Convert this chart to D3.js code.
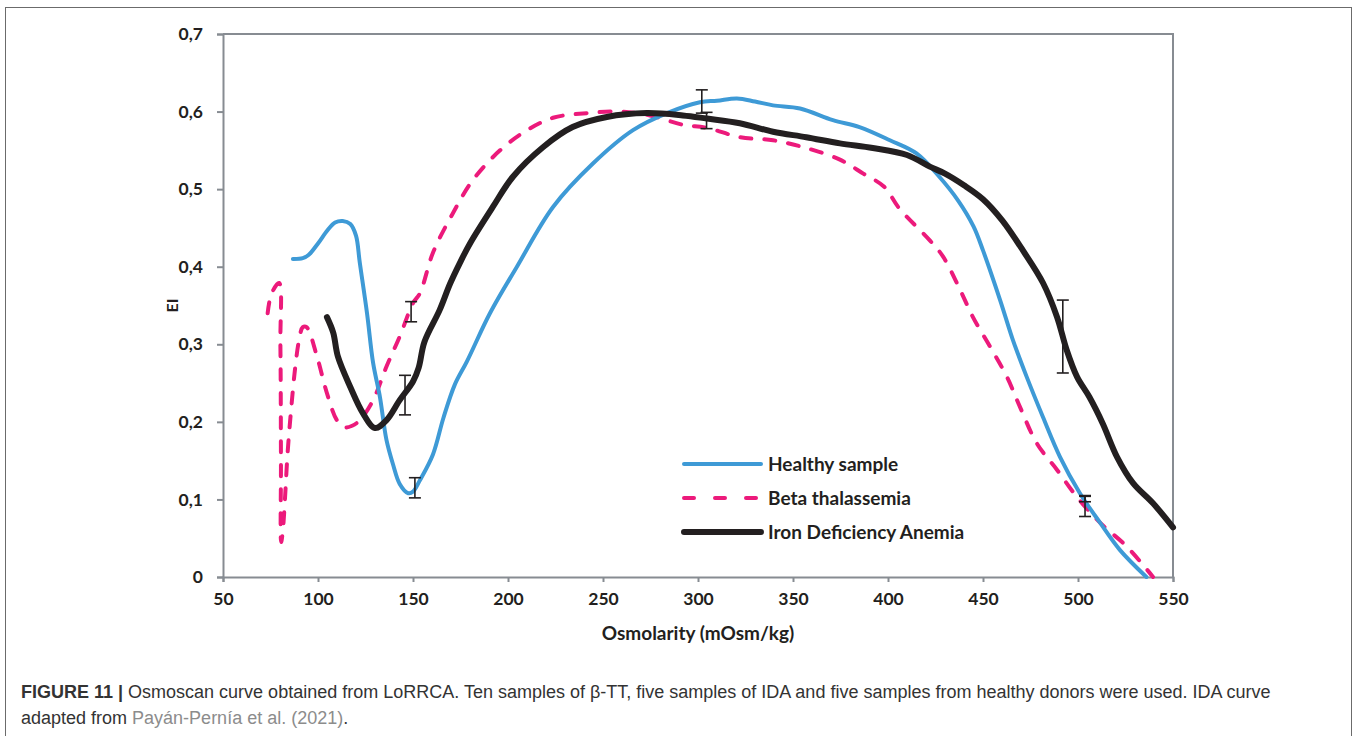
<!DOCTYPE html>
<html>
<head>
<meta charset="utf-8">
<script src="https://cdn.jsdelivr.net/npm/d3@7"></script>
<style>
	body { margin: 0; background: #fff; }
	svg text { font-family: Lato, "Open Sans", sans-serif; }
</style>
</head>
<body>
<div id="chart"></div>
<script>
// values: [osmolarity, EI]
const healthy = [
	[86.8, 0.41], [92, 0.411], [95, 0.415], [100, 0.43], [105, 0.447], [109, 0.457], [113, 0.459],
	[117, 0.455], [120, 0.44], [122, 0.405], [125.8, 0.34], [129, 0.276], [132.6, 0.232],
	[136, 0.177], [139.5, 0.145], [143, 0.12], [147.5, 0.108], [150, 0.11], [153.7, 0.125],
	[160.5, 0.158], [166, 0.205], [172, 0.248], [178.4, 0.278], [190.5, 0.34], [204.7, 0.4],
	[223.7, 0.477], [244.7, 0.533], [265.8, 0.576], [283.7, 0.598], [301, 0.612], [310, 0.614],
	[320.5, 0.617], [330, 0.613], [339.5, 0.608], [353.7, 0.604], [371, 0.589], [385, 0.58],
	[401, 0.563], [415, 0.546], [427, 0.516], [437, 0.485], [445, 0.452], [450, 0.421],
	[459, 0.357], [465.8, 0.305], [473, 0.258], [481.6, 0.206], [490.5, 0.155], [501, 0.108],
	[511.6, 0.07], [522, 0.035], [536, 0.0]
];

const betaThal = [
	[73.5, 0.34], [75.5, 0.365], [79.5, 0.379], [80.2, 0.3], [80.5, 0.15], [80.6, 0.045],
	[81.5, 0.06], [82.6, 0.1], [84, 0.16], [86, 0.22], [88, 0.27], [90, 0.305], [92, 0.322],
	[94, 0.322], [99.5, 0.284], [104.7, 0.237], [110, 0.202], [114, 0.193], [118, 0.195],
	[122, 0.202], [129, 0.228], [136, 0.271], [143, 0.31], [150, 0.353], [153.7, 0.366],
	[160.5, 0.418], [171, 0.469], [181.6, 0.512], [195.8, 0.55], [210, 0.576], [223.7, 0.592],
	[241.6, 0.598], [259, 0.6], [274.7, 0.595], [292, 0.583], [304.7, 0.579], [322, 0.567],
	[339.5, 0.563], [357, 0.553], [374.7, 0.538], [387, 0.52], [398, 0.503], [406, 0.475],
	[422, 0.434], [429, 0.413], [438, 0.37], [444.7, 0.335], [453.7, 0.297], [462.6, 0.258],
	[469.5, 0.219], [478.4, 0.172], [489, 0.138], [499.5, 0.103], [511.6, 0.07],
	[525.8, 0.039], [539.5, 0.0]
];

const ironDef = [
	[104.7, 0.335], [108, 0.315], [110.5, 0.284], [117, 0.245], [123.7, 0.211], [130, 0.192],
	[136, 0.202], [143, 0.228], [150, 0.252], [153, 0.27], [156, 0.303], [164, 0.344],
	[169.5, 0.378], [174.7, 0.405], [180, 0.43], [192, 0.477], [202.6, 0.516], [218.4, 0.554],
	[234, 0.58], [252, 0.593], [273, 0.598], [292, 0.595], [304.7, 0.591], [322, 0.585],
	[339.5, 0.574], [357, 0.567], [374.7, 0.559], [392, 0.553], [410, 0.544], [422, 0.529],
	[430, 0.52], [440, 0.505], [450, 0.487], [460, 0.46], [471, 0.421], [481.6, 0.379],
	[489, 0.335], [494, 0.293], [499.5, 0.258], [506, 0.232], [513, 0.198], [520.5, 0.155],
	[529, 0.121], [539.5, 0.095], [550, 0.064]
];

// error bars: x, low, high
const errX = [149, 145.8, 151, 302, 304.5, 492, 503.7, 503.7];
const errLo = [0.329, 0.209, 0.102, 0.598, 0.578, 0.263, 0.078, 0.097];
const errHi = [0.355, 0.26, 0.128, 0.628, 0.599, 0.357, 0.104, 0.105];

const xTicks = [50, 100, 150, 200, 250, 300, 350, 400, 450, 500, 550];
const yTicks = [0, 0.1, 0.2, 0.3, 0.4, 0.5, 0.6, 0.7];

const seriesNames = ["Healthy sample", "Beta thalassemia", "Iron Deficiency Anemia"];
const seriesColors = ["#3e9ad6", "#ec1a7b", "#231f20"];

const width = 1357, height = 736;
const margin = {left: 223, top: 34, right: 1357 - 1173, bottom: 736 - 577};

const svg = d3.select("#chart").append("svg")
	.attr("width", width)
	.attr("height", height);

// figure frame
svg.append("rect")
	.attr("x", 5.5).attr("y", 7.5)
	.attr("width", 1346).attr("height", 740)
	.attr("fill", "none")
	.attr("stroke", "#6b6b6b")
	.attr("stroke-width", 1);

const x = d3.scaleLinear().domain([50, 550]).range([margin.left, width - margin.right]);
const y = d3.scaleLinear().domain([0, 0.7]).range([height - margin.bottom, margin.top]);

const comma = d3.formatLocale({decimal: ",", thousands: ".", grouping: [3], currency: ["", ""]}).format(".1f");
const axisColor = "#878c92";

// plot box (top & right)
svg.append("path")
	.attr("d", `M${x(50)},${y(0.7)}H${x(550)}V${y(0)}`)
	.attr("fill", "none")
	.attr("stroke", axisColor)
	.attr("stroke-width", 2);

const yAxis = svg.append("g")
	.attr("transform", `translate(${x(50)},0)`)
	.call(d3.axisLeft(y).tickValues(yTicks).tickSize(6).tickPadding(14)
		.tickFormat(d => d === 0 ? "0" : comma(d)));

const xAxis = svg.append("g")
	.attr("transform", `translate(0,${y(0)})`)
	.call(d3.axisBottom(x).tickValues(xTicks).tickSize(5).tickPadding(11));

[xAxis, yAxis].forEach(g => {
	g.select(".domain").attr("stroke", axisColor).attr("stroke-width", 2);
	g.selectAll(".tick line").attr("stroke", axisColor).attr("stroke-width", 2);
	g.selectAll(".tick text")
		.attr("fill", "#231f20")
		.style("font-family", "Lato, sans-serif")
		.style("font-size", "17.5px")
		.style("font-weight", "bold");
});

svg.append("text")
	.attr("x", (x(50) + x(550)) / 2)
	.attr("y", 640)
	.attr("text-anchor", "middle")
	.attr("fill", "#231f20")
	.style("font-size", "19px")
	.style("font-weight", "bold")
	.text("Osmolarity (mOsm/kg)");

svg.append("text")
	.attr("transform", `translate(178,${y(0.35)}) rotate(-90)`)
	.attr("text-anchor", "middle")
	.attr("fill", "#231f20")
	.style("font-size", "16px")
	.style("font-weight", "bold")
	.text("EI");

const line = d3.line()
	.x(d => x(d[0]))
	.y(d => y(d[1]))
	.curve(d3.curveCatmullRom.alpha(0.5));

svg.append("path")
	.attr("d", line(betaThal))
	.attr("fill", "none")
	.attr("stroke", seriesColors[1])
	.attr("stroke-width", 4)
	.attr("stroke-linecap", "round")
	.attr("stroke-dasharray", "11,13");

svg.append("path")
	.attr("d", line(healthy))
	.attr("fill", "none")
	.attr("stroke", seriesColors[0])
	.attr("stroke-width", 4)
	.attr("stroke-linecap", "round")
	.attr("stroke-linejoin", "round");

svg.append("path")
	.attr("d", line(ironDef))
	.attr("fill", "none")
	.attr("stroke", seriesColors[2])
	.attr("stroke-width", 6)
	.attr("stroke-linecap", "round")
	.attr("stroke-linejoin", "round");

// error bars
const err = svg.append("g")
	.attr("stroke", "#231f20")
	.attr("stroke-width", 1.6)
	.selectAll("g")
	.data(errX.map((v, i) => ({x: v, lo: errLo[i], hi: errHi[i]})))
	.enter().append("g");

err.append("line")
	.attr("x1", d => x(d.x)).attr("x2", d => x(d.x))
	.attr("y1", d => y(d.lo)).attr("y2", d => y(d.hi));
err.append("line")
	.attr("x1", d => x(d.x) - 6).attr("x2", d => x(d.x) + 6)
	.attr("y1", d => y(d.lo)).attr("y2", d => y(d.lo));
err.append("line")
	.attr("x1", d => x(d.x) - 6).attr("x2", d => x(d.x) + 6)
	.attr("y1", d => y(d.hi)).attr("y2", d => y(d.hi));

// legend
const legend = svg.append("g")
	.selectAll("g")
	.data(seriesNames)
	.enter().append("g")
	.attr("transform", (d, i) => `translate(684,${464 + i * 34})`);

legend.append("line")
	.attr("x1", 0).attr("x2", 77)
	.attr("stroke", (d, i) => seriesColors[i])
	.attr("stroke-width", (d, i) => i === 2 ? 6 : 4)
	.attr("stroke-linecap", "round")
	.attr("stroke-dasharray", (d, i) => i === 1 ? "10,21" : null);

legend.append("text")
	.attr("x", 84)
	.attr("dy", "0.35em")
	.attr("fill", "#231f20")
	.style("font-size", "19px")
	.style("font-weight", "bold")
	.text(d => d);

// caption
const cap = svg.append("text")
	.attr("x", 21).attr("y", 698)
	.attr("fill", "#333")
	.style("font-family", "'Liberation Sans', Arial, sans-serif")
	.style("font-size", "18px");
cap.append("tspan").style("font-weight", "bold").text("FIGURE 11 | ");
cap.append("tspan").text("Osmoscan curve obtained from LoRRCA. Ten samples of β-TT, five samples of IDA and five samples from healthy donors were used. IDA curve");

const cap2 = svg.append("text")
	.attr("x", 21).attr("y", 724)
	.attr("fill", "#333")
	.style("font-family", "'Liberation Sans', Arial, sans-serif")
	.style("font-size", "18px");
cap2.append("tspan").text("adapted from ");
cap2.append("tspan").attr("fill", "#8c8c8c").text("Payán-Pernía et al. (2021)");
cap2.append("tspan").text(".");
</script>
</body>
</html>
